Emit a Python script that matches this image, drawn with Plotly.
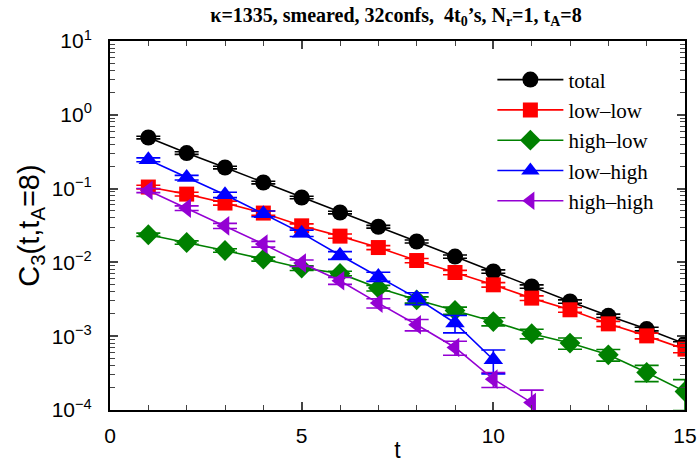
import plotly.graph_objects as go

t_total = [1, 2, 3, 4, 5, 6, 7, 8, 9, 10, 11, 12, 13, 14, 15]
total = [0.492, 0.303, 0.193, 0.121, 0.0757, 0.0474, 0.0304, 0.0192, 0.0120, 0.00753, 0.00471, 0.00295, 0.00189, 0.00125, 0.00079]
total_err = [0.02, 0.012, 0.008, 0.005, 0.003, 0.002, 0.0013, 0.0009, 0.0006, 0.0004, 0.00025, 0.00016, 0.0001, 0.00007, 0.00005]

t_ll = [1, 2, 3, 4, 5, 6, 7, 8, 9, 10, 11, 12, 13, 14, 15]
low_low = [0.105, 0.0842, 0.0637, 0.0466, 0.0313, 0.0227, 0.0159, 0.0106, 0.0073, 0.00497, 0.00328, 0.00228, 0.00147, 0.00101, 0.000668]
low_low_err = [0.006, 0.005, 0.004, 0.003, 0.002, 0.0015, 0.001, 0.0007, 0.0005, 0.00035, 0.00024, 0.00017, 0.00012, 0.00009, 0.00007]

t_hl = [1, 2, 3, 4, 5, 6, 7, 8, 9, 10, 11, 12, 13, 14, 15]
high_low = [0.0237, 0.0186, 0.0145, 0.0111, 0.00838, 0.0071, 0.00449, 0.00311, 0.00223, 0.00158, 0.00108, 0.000807, 0.00056, 0.000322, 0.000178]
high_low_err = [0.0012, 0.001, 0.0008, 0.0007, 0.0006, 0.0005, 0.0004, 0.0003, 0.00025, 0.0002, 0.00016, 0.00014, 0.0001, 0.00008, 0.00008]

t_lh = [1, 2, 3, 4, 5, 6, 7, 8, 9, 10]
low_high = [0.246, 0.141, 0.0824, 0.0456, 0.0249, 0.0125, 0.00644, 0.00328, 0.00151, 0.000479]
low_high_err = [0.015, 0.01, 0.007, 0.004, 0.0025, 0.0015, 0.0009, 0.0006, 0.0004, 0.00017]

t_hh = [1, 2, 3, 4, 5, 6, 7, 8, 9, 10, 11]
high_high = [0.0942, 0.0544, 0.0313, 0.0177, 0.0098, 0.00563, 0.00281, 0.00143, 0.000703, 0.000262, 0.000126]
high_high_err = [0.006, 0.004, 0.0025, 0.0016, 0.001, 0.0006, 0.0004, 0.00025, 0.00015, 0.00006, 0.00006]

y_tickvals = [1e-4, 1e-3, 1e-2, 1e-1, 1, 10]
y_ticktext = ["10<sup>\u22124</sup>", "10<sup>\u22123</sup>", "10<sup>\u22122</sup>",
              "10<sup>\u22121</sup>", "10<sup>0</sup>", "10<sup>1</sup>"]
x_tickvals = [0, 5, 10, 15]

series = [
    ("total", t_total, total, total_err, "black", "circle", 16),
    ("low\u2013low", t_ll, low_low, low_low_err, "#ff0000", "square", 15),
    ("high\u2013low", t_hl, high_low, high_low_err, "#008000", "diamond", 16),
    ("low\u2013high", t_lh, low_high, low_high_err, "#0000ff", "triangle-up", 17),
    ("high\u2013high", t_hh, high_high, high_high_err, "#9400d3", "triangle-left", 17),
]

fig = go.Figure()
for name, xs, ys, es, color, sym, size in series:
    fig.add_trace(go.Scatter(
        x=xs, y=ys, name=name, mode="lines+markers",
        line=dict(color=color, width=1.6),
        marker=dict(symbol=sym, size=size, color=color, line=dict(width=0)),
        error_y=dict(type="data", array=es, visible=True, color=color, thickness=1.6, width=12),
    ))

fig.update_layout(
    width=698, height=463,
    margin=dict(l=110, r=13, t=41, b=53),
    paper_bgcolor="white", plot_bgcolor="white",
    title=dict(
        text="<b>\u03ba=1335, smeared, 32confs,  4t<sub>0</sub>\u2019s, N<sub>r</sub>=1, t<sub>A</sub>=8</b>",
        x=396 / 698, xanchor="center", y=1 - 15 / 463, yanchor="middle",
        font=dict(family="Liberation Serif, Times New Roman, serif", size=20, color="black"),
    ),
    legend=dict(
        x=0.665, y=0.95, xanchor="left", yanchor="top",
        bgcolor="rgba(0,0,0,0)", borderwidth=0,
        font=dict(family="Liberation Serif, Times New Roman, serif", size=21, color="black"),
        itemwidth=66, tracegroupgap=0,
    ),
    font=dict(family="Liberation Sans", color="black"),
)

fig.update_xaxes(
    range=[0, 15], tickvals=x_tickvals, ticks="inside", ticklen=8, tickwidth=1.5,
    showline=True, linecolor="black", linewidth=2, mirror="ticks", showgrid=False, zeroline=False,
    tickfont=dict(family="Liberation Sans", size=21), ticklabelstandoff=6, automargin=False,
    minor=dict(dtick=1, ticks="inside", ticklen=5, tickwidth=1.2, showgrid=False),
    title=dict(text="t", font=dict(family="Liberation Sans", size=23), standoff=4),
)
fig.update_yaxes(
    type="log", range=[-4, 1], tickvals=y_tickvals, ticktext=y_ticktext,
    ticks="inside", ticklen=8, tickwidth=1.5,
    showline=True, linecolor="black", linewidth=2, mirror="ticks", showgrid=False, zeroline=False,
    tickfont=dict(family="Liberation Sans", size=21), ticklabelstandoff=12, automargin=False,
    minor=dict(dtick="D1", ticks="inside", ticklen=5, tickwidth=1.2, showgrid=False),
    title=dict(text="C<sub>3</sub>(t,t<sub>A</sub>=8)", font=dict(family="Liberation Sans", size=29), standoff=4),
)

fig.write_html("out.html")
